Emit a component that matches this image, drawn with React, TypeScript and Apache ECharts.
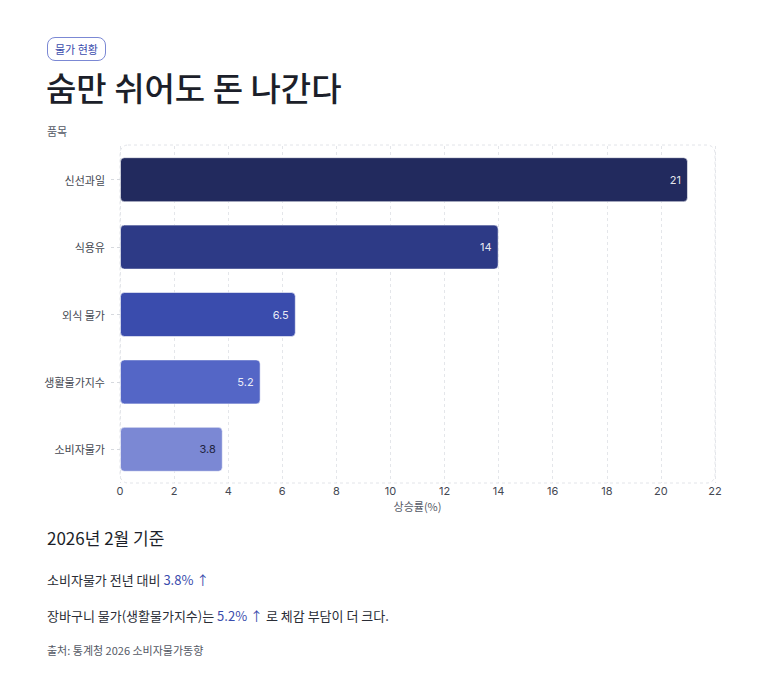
import { useEffect, useRef } from 'react';
import * as echarts from 'echarts';

const categories = ['신선과일', '식용유', '외식 물가', '생활물가지수', '소비자물가'];
const rates = [21, 14, 6.5, 5.2, 3.8];
const barColors = ['#222a5e', '#2d3a86', '#3a4cad', '#5466c6', '#7b88d4'];
const labelColors = ['rgba(255,255,255,0.9)', 'rgba(255,255,255,0.9)', 'rgba(255,255,255,0.9)', 'rgba(255,255,255,0.9)', '#1f2440'];

const FONT = "Inter, 'Noto Sans CJK KR', sans-serif";
const KFONT = "'Noto Sans CJK KR', Inter, sans-serif";

const GRID = { left: 112, right: 50, top: 26, bottom: 32 };

function BarChart() {
  const chartRef = useRef<HTMLDivElement>(null);

  useEffect(() => {
    if (!chartRef.current) return;
    const chart = echarts.init(chartRef.current, null, { renderer: 'svg' });
    const w = chartRef.current.clientWidth;
    const h = chartRef.current.clientHeight;

    chart.setOption({
      animation: false,
      textStyle: { fontFamily: FONT },
      grid: { ...GRID, outerBoundsMode: 'none', containLabel: false },
      graphic: [
        {
          type: 'rect',
          silent: true,
          z: 0,
          shape: {
            x: GRID.left,
            y: GRID.top - 1,
            width: w - GRID.left - GRID.right,
            height: h - GRID.top - GRID.bottom + 1,
            r: 8,
          },
          style: { fill: 'none', stroke: '#e2e4e9', lineWidth: 1, lineDash: [3, 3] },
        },
        {
          type: 'text',
          left: 39,
          top: 5,
          style: { text: '품목', fill: '#555a66', fontSize: 11, fontFamily: KFONT },
        },
      ],
      xAxis: {
        type: 'value',
        min: 0,
        max: 22,
        interval: 2,
        name: '상승률(%)',
        nameLocation: 'middle',
        nameGap: 17,
        nameTextStyle: { color: '#555a66', fontSize: 11, fontFamily: KFONT },
        axisLine: { show: false },
        axisTick: { show: false },
        axisLabel: { color: '#444852', fontSize: 11, margin: 2 },
        splitLine: { show: true, lineStyle: { color: '#e4e6ea', type: [3, 3] } },
      },
      yAxis: {
        type: 'category',
        data: categories,
        inverse: true,
        axisLine: { show: false },
        axisTick: {
          show: true,
          alignWithLabel: true,
          length: 12,
          lineStyle: { color: '#d6d9de', type: [3, 3] },
        },
        axisLabel: { color: '#444852', fontSize: 11, margin: 15, fontFamily: KFONT },
        splitLine: { show: false },
      },
      series: [
        {
          type: 'bar',
          barWidth: 45,
          data: rates.map((v, i) => ({
            value: v,
            itemStyle: { color: barColors[i] },
            label: { color: labelColors[i] },
          })),
          itemStyle: {
            borderRadius: 4,
            borderColor: 'rgba(255,255,255,0.55)',
            borderWidth: 1,
          },
          label: {
            show: true,
            position: 'insideRight',
            distance: 7,
            fontSize: 11,
            fontWeight: 400,
            fontFamily: FONT,
          },
        },
      ],
    });

    return () => chart.dispose();
  }, []);

  return <div ref={chartRef} style={{ width: 757, height: 395 }} />;
}

export default function App() {
  const blue = '#3a4cad';
  return (
    <div style={{ fontFamily: KFONT, color: '#1c1f2a', position: 'relative', width: 757, height: 680 }}>
      <div
        style={{
          position: 'absolute',
          left: 39,
          top: 29,
          height: 22,
          padding: '0 7px',
          border: '1px solid #7b88d4',
          borderRadius: 8,
          color: blue,
          fontSize: 11,
          lineHeight: '22px',
        }}
      >
        물가 현황
      </div>
      <div
        style={{
          position: 'absolute',
          left: 38,
          top: 55,
          fontSize: 33,
          fontWeight: 500,
          lineHeight: '48px',
          color: '#1c1f2a',
          whiteSpace: 'nowrap',
        }}
      >
        숨만 쉬어도 돈 나간다
      </div>
      <div style={{ position: 'absolute', left: 0, top: 112 }}>
        <BarChart />
      </div>
      <div style={{ position: 'absolute', left: 39, top: 517, fontSize: 17, lineHeight: '26px' }}>
        2026년 2월 기준
      </div>
      <div style={{ position: 'absolute', left: 39, top: 562, fontSize: 13, lineHeight: '20px', color: '#2a2d36' }}>
        소비자물가 전년 대비 <span style={{ color: blue }}>3.8% ↑</span>
      </div>
      <div style={{ position: 'absolute', left: 39, top: 598, fontSize: 13, lineHeight: '20px', color: '#2a2d36' }}>
        장바구니 물가(생활물가지수)는 <span style={{ color: blue }}>5.2% ↑</span> 로 체감 부담이 더 크다.
      </div>
      <div style={{ position: 'absolute', left: 39, top: 634, fontSize: 11, lineHeight: '16px', color: '#555a66' }}>
        출처: 통계청 2026 소비자물가동향
      </div>
    </div>
  );
}
